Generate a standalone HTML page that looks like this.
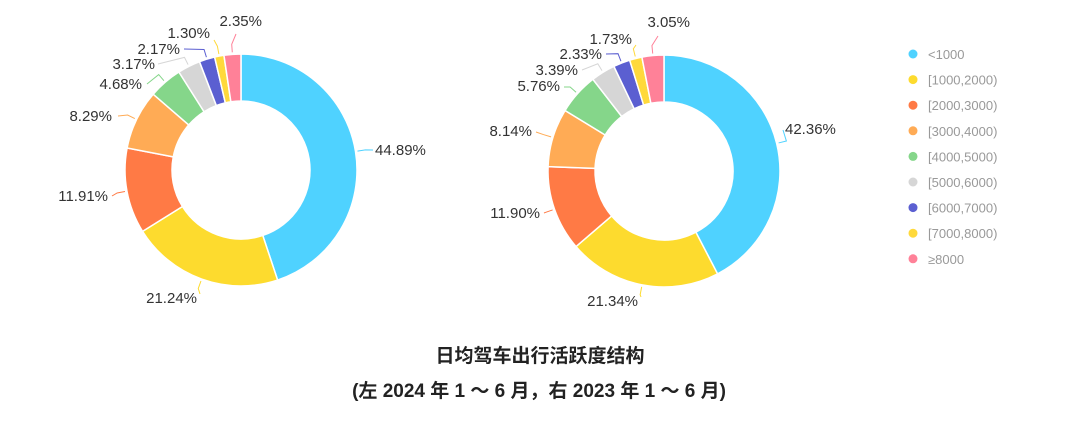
<!DOCTYPE html>
<html><head><meta charset="utf-8"><style>
html,body{margin:0;padding:0;background:#fff;width:1080px;height:428px;overflow:hidden}
svg text{font-family:"Liberation Sans","Noto Sans CJK SC",sans-serif}
</style></head><body>
<svg id="s" width="1080" height="428" xmlns="http://www.w3.org/2000/svg">
<g id="g"></g>
<text x="540" y="362" text-anchor="middle" font-size="19" font-weight="bold" fill="#222">日均驾车出行活跃度结构</text>
<text x="539" y="397" text-anchor="middle" font-size="19" font-weight="bold" fill="#222">(左 2024 年 1 ～ 6 月，右 2023 年 1 ～ 6 月)</text>
</svg>
<script>
const C=["#4fd2ff","#fddb2e","#ff7a45","#ffab55","#85d68a","#d6d6d6","#5b5fd1","#ffd93b","#ff8198"];
const L=["<1000","[1000,2000)","[2000,3000)","[3000,4000)","[4000,5000)","[5000,6000)","[6000,7000)","[7000,8000)","≥8000"];
const g=document.getElementById('g');let h='';
function pt(cx,cy,r,a){return [cx+r*Math.sin(a),cy-r*Math.cos(a)]}
function donut(cx,cy,R,r,vals,labs){
 const tot=vals.reduce((a,b)=>a+b,0);let a0=0;
 vals.forEach((v,i)=>{const a1=a0+v/tot*2*Math.PI;const lg=a1-a0>Math.PI?1:0;
  const p1=pt(cx,cy,R,a0),p2=pt(cx,cy,R,a1),p3=pt(cx,cy,r,a1),p4=pt(cx,cy,r,a0);
  h+=`<path d="M${p1} A${R},${R} 0 ${lg} 1 ${p2} L${p3} A${r},${r} 0 ${lg} 0 ${p4}Z" fill="${C[i]}" stroke="#fff" stroke-width="1.5"/>`;
  const m=(a0+a1)/2,q1=pt(cx,cy,R+2,m),q2=pt(cx,cy,R+10,m);const lb=labs[i];
  h+=`<polyline points="${q1} ${q2} ${lb[3]},${lb[4]}" fill="none" stroke="${C[i]}" stroke-width="1"/>`;
  h+=`<text x="${lb[1]}" y="${lb[2]}" text-anchor="${lb[0]}" font-size="15" fill="#333">${(v).toFixed(2)}%</text>`;
  a0=a1;});
}
donut(241,170,116,69,[44.89,21.24,11.91,8.29,4.68,3.17,2.17,1.30,2.35],[
 ["start",375,155,373,150],["end",197,303,200,294],["end",108,201,112,196],["end",112,121,118,116],["end",142,89,147,84],["end",155,69,158,64],["end",180,54,184,49],["end",210,38,214,40],["end",262,26,236,34]]);
donut(664,171,116,69,[42.36,21.34,11.90,8.14,5.76,3.39,2.33,1.73,3.05],[
 ["start",785,134,783,130],["end",638,306,641,297],["end",540,218,544,213],["end",532,136,536,132],["end",560,91,564,87],["end",578,75,582,70],["end",602,59,606,54],["end",632,44,636,45],["end",690,27,658,36]]);
L.forEach((t,i)=>{const y=54+25.6*i;h+=`<circle cx="913" cy="${y}" r="4.5" fill="${C[i]}"/><text x="928" y="${y+5}" font-size="13" fill="#999">${t.replace('<','&lt;')}</text>`});
g.innerHTML=h;
</script>
</body></html>
